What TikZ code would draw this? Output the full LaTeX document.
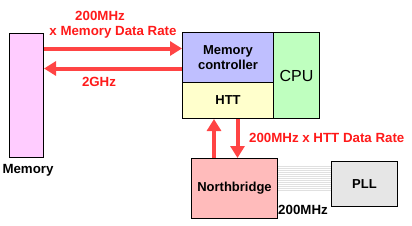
\documentclass[tikz,border=0pt]{standalone}
\usepackage{fontspec}
\setmainfont{Liberation Sans}
\usetikzlibrary{arrows.meta}
\definecolor{ffccff}{RGB}{255,204,255}
\definecolor{bfbfff}{RGB}{191,191,255}
\definecolor{ffffcc}{RGB}{255,255,204}
\definecolor{bfffbf}{RGB}{191,255,191}
\definecolor{ffbbbb}{RGB}{255,187,187}
\definecolor{e6e6e6}{RGB}{230,230,230}
\definecolor{ff4444}{RGB}{255,68,68}
\definecolor{ff1a1a}{RGB}{255,26,26}
\definecolor{dddddd}{RGB}{224,224,224}

\begin{document}
\begin{tikzpicture}[x=1pt,y=-1pt,line cap=butt,line join=miter,
		blk/.style={draw=black,line width=1pt,inner sep=0pt,anchor=north west,font=\fontsize{13}{15}\selectfont\bfseries,align=center},
		arr/.style={color=ff4444,line width=4pt,-{Triangle[width=14pt,length=12pt]}},
		lbl/.style={color=ff1a1a,font=\fontsize{13.3}{15}\selectfont\bfseries,inner sep=0pt}]
		\useasboundingbox (0,0) rectangle (412,225);
		% boxes
		\node[blk,fill=ffccff,minimum width=34pt,minimum height=124pt] (mem) at (9,33) {};
		\node[blk,fill=bfbfff,minimum width=91pt,minimum height=50pt] (mc) at (182,32) {Memory\\controller};
		\node[blk,fill=ffffcc,minimum width=91pt,minimum height=36pt] (htt) at (182,82) {HTT};
		\node[blk,fill=bfffbf,minimum width=46pt,minimum height=86pt,font=\fontsize{16}{18}\selectfont] (cpu) at (273,32) {CPU};
		\node[blk,fill=ffbbbb,minimum width=86pt,minimum height=60pt] (nb) at (191,158) {Northbridge};
		\node[blk,fill=e6e6e6,minimum width=66pt,minimum height=45pt] (pll) at (331,161) {PLL};
		% clock lines
		\foreach \y in {166,168,...,190}
		\draw[color=dddddd,line width=0.6pt] (nb.east |- 0,\y) -- (pll.west |- 0,\y);
		% arrows
		\draw[arr] ([yshift=9pt]mc.west -| mem.east) -- ([yshift=9pt]mc.west);
		\draw[arr] ([yshift=-11pt]mc.west) -- ([yshift=-11pt]mc.west -| mem.east);
		\draw[arr] ([xshift=-14pt]htt.south |- nb.north) -- ([xshift=-14pt]htt.south);
		\draw[arr] ([xshift=9.5pt]htt.south) -- ([xshift=9.5pt]htt.south |- nb.north);
		% labels
		\node[lbl] (l1) at (100,16) {200MHz};
		\node[lbl] (l2) at (113,32) {x Memory Data Rate};
		\node[lbl] (l3) at (99,82) {2GHz};
		\node[lbl,anchor=west] (l4) at (249,138) {200MHz x HTT Data Rate};
		\node[lbl,color=black] (l5) at (303,210) {200MHz};
		\node[lbl,color=black] (l6) at (28,170) {Memory};
\end{tikzpicture}
\end{document}
